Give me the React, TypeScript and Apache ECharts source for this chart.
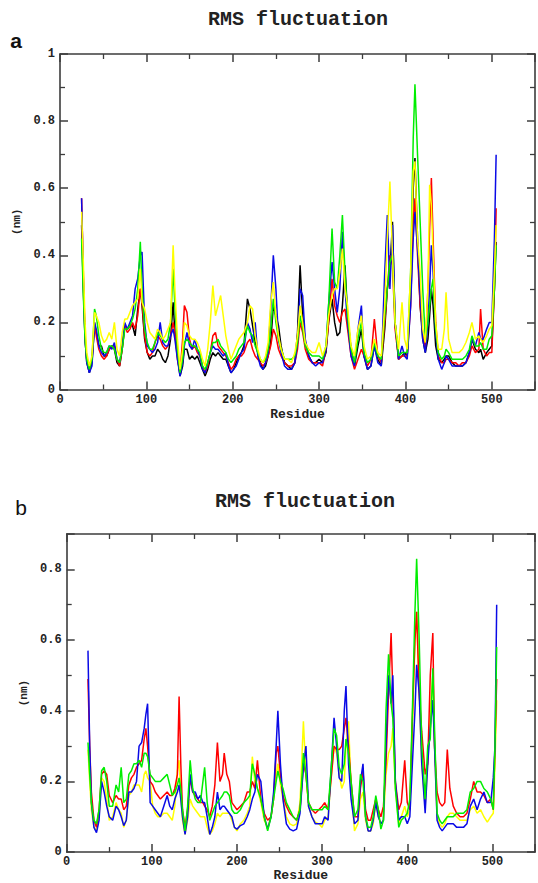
import React, { useEffect, useRef } from "react";
import * as echarts from "echarts";

// ---------- Panel a ----------
const residuesA = [
  25, 27, 29, 31, 34, 37, 40, 42, 45, 48,
  51, 54, 57, 60, 63, 66, 69, 72, 75, 78,
  81, 84, 87, 90, 93, 95, 98, 101, 104, 107,
  110, 113, 116, 119, 122, 125, 128, 131, 133, 136,
  139, 142, 144, 147, 150, 153, 156, 159, 162, 165,
  168, 171, 174, 177, 180, 183, 186, 189, 192, 195,
  198, 201, 204, 207, 210, 213, 217, 220, 223, 226,
  229, 232, 235, 238, 241, 244, 247, 250, 253, 256,
  260, 264, 268, 272, 275, 278, 281, 284, 288, 292,
  296, 300, 304, 308, 311, 315, 318, 321, 324, 327,
  330, 333, 337, 341, 345, 349, 352, 356, 360, 364,
  368, 372, 376, 379, 382, 385, 388, 392, 396, 399,
  402, 406, 409, 411, 414, 417, 420, 423, 426, 428,
  430, 432, 435, 438, 442, 445, 447, 450, 454, 458,
  462, 466, 470, 474, 477, 481, 485, 487, 490, 494,
  497, 500, 503, 505,
];
const blackA = [
  0.49, 0.30, 0.15, 0.08, 0.05, 0.08, 0.19, 0.17, 0.13, 0.13,
  0.10, 0.10, 0.12, 0.13, 0.12, 0.08, 0.07, 0.12, 0.19, 0.18,
  0.19, 0.19, 0.16, 0.24, 0.30, 0.25, 0.15, 0.11, 0.09, 0.10,
  0.10, 0.12, 0.11, 0.09, 0.08, 0.10, 0.15, 0.26, 0.17, 0.10,
  0.04, 0.07, 0.12, 0.12, 0.09, 0.10, 0.09, 0.10, 0.08, 0.06,
  0.04, 0.06, 0.09, 0.11, 0.10, 0.11, 0.10, 0.09, 0.09, 0.07,
  0.05, 0.06, 0.08, 0.10, 0.11, 0.13, 0.27, 0.24, 0.19, 0.14,
  0.11, 0.08, 0.06, 0.07, 0.10, 0.14, 0.25, 0.22, 0.19, 0.13,
  0.08, 0.07, 0.06, 0.08, 0.17, 0.37, 0.22, 0.14, 0.10, 0.08,
  0.08, 0.09, 0.08, 0.11, 0.20, 0.27, 0.20, 0.16, 0.17, 0.25,
  0.37, 0.22, 0.12, 0.07, 0.13, 0.18, 0.10, 0.06, 0.07, 0.13,
  0.09, 0.07, 0.18, 0.30, 0.35, 0.50, 0.20, 0.09, 0.10, 0.11,
  0.10, 0.30, 0.60, 0.69, 0.45, 0.25, 0.15, 0.11, 0.15, 0.22,
  0.30, 0.25, 0.13, 0.09, 0.08, 0.09, 0.10, 0.10, 0.08, 0.07,
  0.07, 0.07, 0.08, 0.11, 0.15, 0.12, 0.11, 0.12, 0.09, 0.11,
  0.12, 0.13, 0.30, 0.44,
];
const redA = [
  0.57, 0.35, 0.16, 0.09, 0.06, 0.09, 0.20, 0.16, 0.12, 0.10,
  0.09, 0.10, 0.12, 0.13, 0.13, 0.09, 0.07, 0.12, 0.19, 0.17,
  0.18, 0.20, 0.18, 0.22, 0.30, 0.26, 0.16, 0.11, 0.10, 0.11,
  0.14, 0.16, 0.15, 0.13, 0.12, 0.13, 0.16, 0.20, 0.17, 0.09,
  0.05, 0.15, 0.25, 0.23, 0.15, 0.12, 0.13, 0.11, 0.10, 0.07,
  0.05, 0.07, 0.11, 0.16, 0.17, 0.13, 0.12, 0.11, 0.10, 0.08,
  0.06, 0.07, 0.09, 0.10, 0.10, 0.11, 0.14, 0.15, 0.12, 0.10,
  0.09, 0.08, 0.07, 0.08, 0.10, 0.13, 0.18, 0.16, 0.12, 0.10,
  0.08, 0.07, 0.07, 0.08, 0.12, 0.20, 0.17, 0.12, 0.09, 0.08,
  0.08, 0.08, 0.07, 0.12, 0.20, 0.33, 0.25, 0.22, 0.20, 0.23,
  0.24, 0.18, 0.10, 0.06, 0.09, 0.12, 0.10, 0.07, 0.09, 0.21,
  0.10, 0.08, 0.20, 0.30, 0.40, 0.37, 0.18, 0.09, 0.10, 0.10,
  0.10, 0.25, 0.50, 0.57, 0.40, 0.25, 0.17, 0.12, 0.30, 0.48,
  0.63, 0.45, 0.20, 0.10, 0.08, 0.08, 0.09, 0.09, 0.08, 0.08,
  0.07, 0.08, 0.08, 0.10, 0.13, 0.11, 0.12, 0.24, 0.12, 0.10,
  0.11, 0.11, 0.30, 0.54,
];
const blueA = [
  0.57, 0.33, 0.15, 0.08, 0.05, 0.07, 0.20, 0.18, 0.13, 0.11,
  0.10, 0.11, 0.13, 0.12, 0.14, 0.09, 0.08, 0.13, 0.20, 0.18,
  0.20, 0.22, 0.30, 0.33, 0.40, 0.41, 0.20, 0.13, 0.12, 0.11,
  0.12, 0.14, 0.20, 0.14, 0.13, 0.13, 0.16, 0.18, 0.15, 0.09,
  0.04, 0.08, 0.13, 0.17, 0.13, 0.12, 0.15, 0.12, 0.10, 0.06,
  0.05, 0.08, 0.11, 0.13, 0.12, 0.12, 0.11, 0.10, 0.11, 0.07,
  0.05, 0.06, 0.07, 0.09, 0.11, 0.12, 0.20, 0.18, 0.14, 0.20,
  0.10, 0.07, 0.06, 0.08, 0.11, 0.24, 0.40, 0.30, 0.15, 0.11,
  0.07, 0.06, 0.06, 0.08, 0.14, 0.30, 0.28, 0.15, 0.10, 0.08,
  0.07, 0.08, 0.08, 0.12, 0.25, 0.38, 0.30, 0.23, 0.30, 0.47,
  0.30, 0.20, 0.10, 0.07, 0.18, 0.25, 0.10, 0.06, 0.07, 0.13,
  0.08, 0.07, 0.35, 0.52, 0.30, 0.49, 0.20, 0.09, 0.13, 0.10,
  0.09, 0.25, 0.45, 0.53, 0.42, 0.28, 0.15, 0.11, 0.20, 0.30,
  0.43, 0.35, 0.17, 0.09, 0.06, 0.08, 0.10, 0.09, 0.07, 0.07,
  0.07, 0.07, 0.08, 0.11, 0.15, 0.13, 0.17, 0.15, 0.15, 0.18,
  0.20, 0.20, 0.45, 0.70,
];
const greenA = [
  0.45, 0.28, 0.15, 0.09, 0.06, 0.09, 0.24, 0.22, 0.16, 0.12,
  0.11, 0.11, 0.13, 0.13, 0.12, 0.09, 0.08, 0.12, 0.18, 0.18,
  0.19, 0.21, 0.24, 0.30, 0.44, 0.30, 0.18, 0.14, 0.12, 0.12,
  0.14, 0.17, 0.16, 0.15, 0.14, 0.15, 0.20, 0.36, 0.25, 0.12,
  0.05, 0.09, 0.14, 0.15, 0.14, 0.13, 0.13, 0.12, 0.11, 0.07,
  0.06, 0.08, 0.11, 0.14, 0.14, 0.15, 0.13, 0.12, 0.11, 0.09,
  0.08, 0.09, 0.10, 0.12, 0.13, 0.14, 0.19, 0.17, 0.16, 0.13,
  0.11, 0.09, 0.08, 0.09, 0.12, 0.18, 0.27, 0.20, 0.15, 0.12,
  0.09, 0.09, 0.09, 0.10, 0.14, 0.22, 0.18, 0.13, 0.11, 0.10,
  0.10, 0.10, 0.09, 0.13, 0.25, 0.48, 0.32, 0.30, 0.40, 0.52,
  0.35, 0.22, 0.12, 0.08, 0.15, 0.20, 0.11, 0.08, 0.09, 0.14,
  0.10, 0.09, 0.22, 0.30, 0.38, 0.40, 0.20, 0.10, 0.11, 0.11,
  0.11, 0.35, 0.75, 0.91, 0.70, 0.50, 0.30, 0.15, 0.20, 0.25,
  0.30, 0.33, 0.18, 0.11, 0.09, 0.10, 0.12, 0.11, 0.09, 0.09,
  0.09, 0.09, 0.10, 0.12, 0.16, 0.13, 0.13, 0.14, 0.12, 0.12,
  0.15, 0.16, 0.30, 0.43,
];
const yellowA = [
  0.53, 0.38, 0.20, 0.11, 0.07, 0.10, 0.23, 0.22, 0.20, 0.16,
  0.14, 0.15, 0.17, 0.15, 0.20, 0.12, 0.10, 0.17, 0.21, 0.21,
  0.23, 0.25, 0.26, 0.27, 0.36, 0.26, 0.24, 0.20, 0.17, 0.16,
  0.15, 0.18, 0.17, 0.15, 0.16, 0.18, 0.20, 0.43, 0.30, 0.15,
  0.06, 0.12, 0.20, 0.19, 0.16, 0.15, 0.15, 0.14, 0.12, 0.09,
  0.07, 0.12, 0.20, 0.31, 0.22, 0.25, 0.28, 0.22, 0.16, 0.12,
  0.09, 0.11, 0.13, 0.15, 0.16, 0.17, 0.20, 0.25, 0.24, 0.16,
  0.12, 0.09, 0.08, 0.10, 0.14, 0.26, 0.32, 0.22, 0.16, 0.12,
  0.09, 0.09, 0.08, 0.11, 0.16, 0.25, 0.20, 0.14, 0.12, 0.11,
  0.11, 0.14, 0.10, 0.13, 0.22, 0.28, 0.30, 0.30, 0.35, 0.42,
  0.30, 0.25, 0.13, 0.10, 0.18, 0.22, 0.13, 0.09, 0.10, 0.15,
  0.11, 0.10, 0.25, 0.45, 0.62, 0.40, 0.20, 0.12, 0.26, 0.15,
  0.12, 0.35, 0.65, 0.68, 0.45, 0.35, 0.18, 0.14, 0.30, 0.61,
  0.55, 0.40, 0.20, 0.12, 0.12, 0.18, 0.29, 0.15, 0.11, 0.11,
  0.11, 0.12, 0.14, 0.17, 0.20, 0.15, 0.16, 0.15, 0.14, 0.16,
  0.18, 0.19, 0.35, 0.49,
];

// ---------- Panel b ----------
const residuesB = [
  25, 27, 29, 32, 35, 38, 41, 44, 47, 50,
  54, 58, 61, 64, 67, 70, 73, 76, 79, 82,
  85, 88, 91, 93, 95, 98, 101, 104, 107, 110,
  114, 118, 121, 124, 127, 130, 132, 134, 136, 139,
  142, 145, 148, 151, 154, 157, 160, 162, 165, 168,
  171, 174, 177, 180, 183, 185, 188, 191, 194, 197,
  200, 204, 208, 212, 215, 218, 221, 224, 228, 232,
  236, 240, 243, 246, 248, 251, 254, 258, 262, 266,
  270, 274, 278, 281, 284, 288, 292, 296, 300, 303,
  307, 311, 314, 317, 320, 323, 326, 328, 331, 334,
  338, 342, 345, 348, 351, 354, 357, 360, 363, 366,
  369, 372, 375, 378, 381, 383, 386, 390, 393, 397,
  400, 403, 406, 409, 411, 414, 417, 421, 424, 427,
  430, 432, 435, 438, 441, 444, 447, 450, 454, 458,
  462, 466, 470, 474, 478, 482, 486, 490, 494, 498,
  501, 503, 505,
];
const redB = [
  0.49, 0.30, 0.17, 0.09, 0.07, 0.12, 0.22, 0.23, 0.22, 0.16,
  0.14, 0.16, 0.15, 0.15, 0.12, 0.13, 0.19, 0.21, 0.22, 0.24,
  0.25, 0.26, 0.32, 0.35, 0.30, 0.20, 0.19, 0.17, 0.16, 0.15,
  0.16, 0.17, 0.16, 0.16, 0.18, 0.22, 0.44, 0.25, 0.12, 0.07,
  0.12, 0.21, 0.17, 0.16, 0.15, 0.14, 0.14, 0.13, 0.12, 0.10,
  0.13, 0.19, 0.31, 0.20, 0.22, 0.28, 0.22, 0.20, 0.14, 0.13,
  0.12, 0.13, 0.14, 0.17, 0.17, 0.20, 0.18, 0.26, 0.15, 0.11,
  0.09, 0.10, 0.15, 0.28, 0.30, 0.22, 0.16, 0.13, 0.11, 0.10,
  0.09, 0.12, 0.25, 0.22, 0.14, 0.12, 0.11, 0.12, 0.13, 0.14,
  0.12, 0.22, 0.30, 0.29, 0.29, 0.30, 0.35, 0.38, 0.30, 0.20,
  0.10, 0.10, 0.18, 0.23, 0.12, 0.09, 0.09, 0.12, 0.15, 0.12,
  0.10, 0.13, 0.25, 0.45, 0.62, 0.45, 0.20, 0.12, 0.14, 0.26,
  0.14, 0.12, 0.38, 0.60, 0.68, 0.45, 0.34, 0.22, 0.25, 0.50,
  0.62, 0.30, 0.17, 0.14, 0.13, 0.14, 0.29, 0.18, 0.13, 0.11,
  0.10, 0.10, 0.11, 0.15, 0.20, 0.17, 0.17, 0.16, 0.14, 0.15,
  0.12, 0.30, 0.49,
];
const blueB = [
  0.57, 0.30, 0.14, 0.07, 0.055, 0.09, 0.20, 0.17, 0.13, 0.10,
  0.09, 0.13, 0.12, 0.10, 0.075, 0.09, 0.17, 0.17, 0.18, 0.20,
  0.30, 0.31, 0.35, 0.39, 0.42, 0.14, 0.13, 0.12, 0.11, 0.10,
  0.13, 0.16, 0.13, 0.12, 0.15, 0.17, 0.19, 0.15, 0.10, 0.05,
  0.10, 0.22, 0.17, 0.17, 0.15, 0.16, 0.14, 0.14, 0.10, 0.05,
  0.07, 0.10, 0.17, 0.12, 0.13, 0.13, 0.12, 0.11, 0.10, 0.07,
  0.065, 0.075, 0.08, 0.10, 0.12, 0.15, 0.17, 0.22, 0.20, 0.10,
  0.065, 0.10, 0.17, 0.30, 0.40, 0.25, 0.15, 0.08, 0.065, 0.06,
  0.065, 0.11, 0.24, 0.30, 0.13, 0.10, 0.08, 0.08, 0.08, 0.10,
  0.09, 0.25, 0.38, 0.30, 0.21, 0.20, 0.40, 0.47, 0.25, 0.15,
  0.08, 0.09, 0.20, 0.25, 0.10, 0.06, 0.06, 0.09, 0.14, 0.10,
  0.08, 0.09, 0.30, 0.50, 0.42, 0.50, 0.20, 0.09, 0.10, 0.10,
  0.08, 0.10, 0.25, 0.40, 0.53, 0.45, 0.25, 0.11, 0.25, 0.35,
  0.43, 0.30, 0.09, 0.07, 0.06, 0.07, 0.08, 0.08, 0.08, 0.07,
  0.07, 0.07, 0.08, 0.13, 0.15, 0.12, 0.15, 0.17, 0.14, 0.14,
  0.21, 0.30, 0.70,
];
const greenB = [
  0.31, 0.22, 0.14, 0.09, 0.08, 0.12, 0.23, 0.24, 0.20, 0.13,
  0.13, 0.19, 0.17, 0.24, 0.14, 0.15, 0.22, 0.23, 0.25, 0.25,
  0.26, 0.24, 0.28, 0.28, 0.27, 0.22, 0.21, 0.20, 0.20, 0.20,
  0.21, 0.22, 0.19, 0.16, 0.17, 0.19, 0.21, 0.18, 0.12, 0.06,
  0.13, 0.26, 0.18, 0.15, 0.14, 0.14, 0.20, 0.24, 0.14, 0.09,
  0.11, 0.13, 0.14, 0.15, 0.16, 0.17, 0.17, 0.16, 0.12, 0.11,
  0.11, 0.12, 0.14, 0.15, 0.16, 0.25, 0.22, 0.18, 0.15, 0.10,
  0.06, 0.10, 0.15, 0.20, 0.23, 0.20, 0.18, 0.14, 0.12, 0.10,
  0.09, 0.12, 0.28, 0.22, 0.14, 0.12, 0.12, 0.12, 0.12, 0.13,
  0.12, 0.25, 0.35, 0.33, 0.24, 0.22, 0.25, 0.32, 0.28, 0.20,
  0.10, 0.12, 0.22, 0.20, 0.10, 0.07, 0.07, 0.10, 0.16, 0.12,
  0.065, 0.09, 0.40, 0.56, 0.42, 0.38, 0.18, 0.07, 0.09, 0.10,
  0.11, 0.15, 0.40, 0.68, 0.83, 0.60, 0.30, 0.15, 0.30, 0.32,
  0.52, 0.35, 0.11, 0.09, 0.08, 0.09, 0.10, 0.10, 0.10, 0.11,
  0.11, 0.11, 0.12, 0.17, 0.18, 0.20, 0.20, 0.18, 0.17, 0.15,
  0.12, 0.30, 0.58,
];
const yellowB = [
  0.29, 0.20, 0.12, 0.07, 0.06, 0.10, 0.21, 0.20, 0.15, 0.09,
  0.10, 0.14, 0.12, 0.11, 0.07, 0.09, 0.16, 0.17, 0.19, 0.19,
  0.19, 0.17, 0.22, 0.23, 0.21, 0.20, 0.13, 0.11, 0.10, 0.10,
  0.11, 0.11, 0.10, 0.09, 0.13, 0.23, 0.26, 0.16, 0.09, 0.05,
  0.09, 0.15, 0.13, 0.12, 0.11, 0.10, 0.10, 0.10, 0.07, 0.05,
  0.06, 0.08, 0.11, 0.10, 0.11, 0.11, 0.11, 0.11, 0.09, 0.07,
  0.06, 0.08, 0.09, 0.11, 0.13, 0.27, 0.20, 0.18, 0.14, 0.09,
  0.07, 0.10, 0.16, 0.22, 0.25, 0.19, 0.15, 0.10, 0.08, 0.075,
  0.08, 0.14, 0.37, 0.22, 0.13, 0.10, 0.085, 0.08, 0.07, 0.09,
  0.10, 0.22, 0.30, 0.28, 0.22, 0.18, 0.20, 0.30, 0.37, 0.18,
  0.06, 0.08, 0.15, 0.17, 0.09, 0.06, 0.06, 0.08, 0.14, 0.10,
  0.08, 0.09, 0.22, 0.28, 0.30, 0.35, 0.18, 0.08, 0.10, 0.13,
  0.10, 0.12, 0.35, 0.60, 0.68, 0.45, 0.25, 0.13, 0.25, 0.40,
  0.50, 0.30, 0.10, 0.08, 0.07, 0.08, 0.10, 0.11, 0.11, 0.10,
  0.09, 0.09, 0.09, 0.12, 0.13, 0.11, 0.12, 0.10, 0.085, 0.10,
  0.11, 0.25, 0.43,
];

const titleText = "RMS fluctuation";
const xAxisName = "Residue";
const yAxisName = "(nm)";

const MONO = '"Liberation Mono", "DejaVu Sans Mono", monospace';
const AXIS_COLOR = "#3c3c3c";

function zip(xs: number[], ys: number[]) {
  return xs.map((x, i) => [x, ys[i]]);
}

function xAx(gridIndex: number, position: string, main: boolean, nameGap: number) {
  return {
    type: "value",
    gridIndex,
    position,
    min: 0,
    max: 550,
    interval: 100,
    name: main ? xAxisName : "",
    nameLocation: "middle",
    nameGap,
    nameTextStyle: { fontFamily: MONO, fontWeight: "bold", fontSize: 13, color: "#222" },
    axisLine: { show: true, onZero: false, lineStyle: { color: AXIS_COLOR, width: 1.6 } },
    axisTick: { show: true, inside: true, length: 8, lineStyle: { color: AXIS_COLOR, width: 1.5 } },
    minorTick: { show: true, splitNumber: 2, length: 5, lineStyle: { color: AXIS_COLOR, width: 1.3 } },
    splitLine: { show: false },
    minorSplitLine: { show: false },
    axisLabel: {
      show: main,
      margin: 4,
      fontFamily: MONO,
      fontWeight: "bold",
      fontSize: 12,
      color: "#222",
      formatter: (v: number) => (v > 500 ? "" : String(v)),
    },
  };
}

function yAx(gridIndex: number, position: string, main: boolean, max: number, nameGap: number) {
  return {
    type: "value",
    gridIndex,
    position,
    min: 0,
    max,
    interval: 0.2,
    name: main ? yAxisName : "",
    nameLocation: "middle",
    nameRotate: 90,
    nameGap,
    nameTextStyle: { fontFamily: MONO, fontWeight: "bold", fontSize: 11, color: "#222" },
    axisLine: { show: true, onZero: false, lineStyle: { color: AXIS_COLOR, width: 1.6 } },
    axisTick: { show: true, inside: true, length: 8, lineStyle: { color: AXIS_COLOR, width: 1.5 } },
    minorTick: { show: true, splitNumber: 2, length: 5, lineStyle: { color: AXIS_COLOR, width: 1.3 } },
    splitLine: { show: false },
    minorSplitLine: { show: false },
    axisLabel: {
      show: main,
      margin: 5,
      fontFamily: MONO,
      fontWeight: "bold",
      fontSize: 12,
      color: "#222",
      formatter: (v: number) => {
        if (v === 0) return "0";
        if (Math.abs(v - 1) < 1e-9) return "1";
        if (Math.abs(v * 10 - Math.round(v * 10)) > 1e-6) return "";
        if (Math.round(v * 10) % 2 !== 0) return "";
        return v.toFixed(1);
      },
    },
  };
}

function line(name: string, color: string, xs: number[], ys: number[], xi: number, yi: number) {
  return {
    type: "line",
    name,
    xAxisIndex: xi,
    yAxisIndex: yi,
    data: zip(xs, ys),
    showSymbol: false,
    symbol: "none",
    lineStyle: { color, width: 1.5 },
    itemStyle: { color },
    emphasis: { disabled: true },
  };
}

export default function App() {
  const ref = useRef<HTMLDivElement>(null);
  useEffect(() => {
    if (!ref.current) return;
    const chart = echarts.init(ref.current, undefined, { renderer: "svg" });
    chart.setOption({
      animation: false,
      backgroundColor: "#ffffff",
      grid: [
        { left: 60, top: 54, width: 475, height: 335.5 },
        { left: 66.7, top: 534, width: 477, height: 321 },
      ],
      xAxis: [
        xAx(0, "bottom", true, 18),
        xAx(0, "top", false, 0),
        xAx(1, "bottom", true, 16.5),
        xAx(1, "top", false, 0),
      ],
      yAxis: [
        yAx(0, "left", true, 1, 32),
        yAx(0, "right", false, 1, 0),
        yAx(1, "left", true, 0.9, 33),
        yAx(1, "right", false, 0.9, 0),
      ],
      series: [
        line("a-black", "#000000", residuesA, blackA, 0, 0),
        line("a-red", "#ff0000", residuesA, redA, 0, 0),
        line("a-blue", "#0a0ae6", residuesA, blueA, 0, 0),
        line("a-green", "#00ee00", residuesA, greenA, 0, 0),
        line("a-yellow", "#ffff00", residuesA, yellowA, 0, 0),
        line("b-yellow", "#ffff00", residuesB, yellowB, 2, 2),
        line("b-red", "#ff0000", residuesB, redB, 2, 2),
        line("b-blue", "#0a0ae6", residuesB, blueB, 2, 2),
        line("b-green", "#00ee00", residuesB, greenB, 2, 2),
      ],
      graphic: [
        {
          type: "text",
          x: 298,
          y: 19,
          style: {
            text: titleText,
            font: 'bold 20px "Liberation Mono", monospace',
            fill: "#222",
            align: "center",
            verticalAlign: "middle",
            textAlign: "center",
            textVerticalAlign: "middle",
          },
        },
        {
          type: "text",
          x: 305,
          y: 501,
          style: {
            text: titleText,
            font: 'bold 20px "Liberation Mono", monospace',
            fill: "#222",
            align: "center",
            verticalAlign: "middle",
            textAlign: "center",
            textVerticalAlign: "middle",
          },
        },
        {
          type: "text",
          x: 16,
          y: 40,
          style: {
            text: "a",
            font: 'bold 21px "Liberation Sans", Arial, sans-serif',
            fill: "#111",
            align: "center",
            verticalAlign: "middle",
            textAlign: "center",
            textVerticalAlign: "middle",
          },
        },
        {
          type: "text",
          x: 21,
          y: 507,
          style: {
            text: "b",
            font: 'normal 21px "Liberation Sans", Arial, sans-serif',
            fill: "#111",
            align: "center",
            verticalAlign: "middle",
            textAlign: "center",
            textVerticalAlign: "middle",
          },
        },
      ],
    });
    return () => chart.dispose();
  }, []);
  return (
    <div
      ref={ref}
      style={{ position: "absolute", left: 0, top: 0, width: 538, height: 883, background: "#fff" }}
    />
  );
}
